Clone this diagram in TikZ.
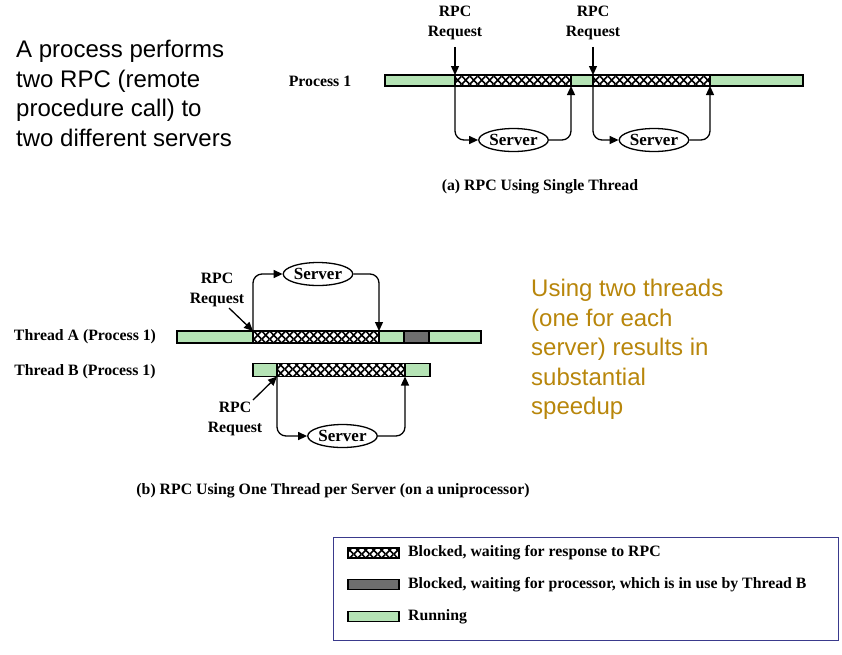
\documentclass[tikz,border=0pt]{standalone}
\usepackage{fontspec}
\setmainfont{Liberation Serif}
\newfontfamily\arialfont{Liberation Sans}
\usetikzlibrary{arrows.meta, patterns.meta, positioning, shapes.geometric}
\definecolor{RunGreen}{HTML}{B5E3B5}
\definecolor{WaitGray}{HTML}{6E6E6E}
\definecolor{NoteGold}{HTML}{B8860B}
\definecolor{LegendBlue}{HTML}{3A3A8C}

\tikzdeclarepattern{
  name=xhatch,
  type=uncolored,
  bounding box={(0pt,0pt) and (7.7pt,7.7pt)},
  tile size={(7.7pt,7.7pt)},
  code={\draw[line width=1.6pt] (0pt,0pt) -- (7.7pt,7.7pt) (0pt,7.7pt) -- (7.7pt,0pt);}
}

\tikzset{
  lbl/.style={font=\fontsize{15.8}{19.5}\selectfont\bfseries, inner sep=0pt, align=center},
  note/.style={font=\arialfont\fontsize{24}{29.5}\selectfont, inner sep=0pt, align=left, anchor=north west},
  seg/.style={draw, line width=1.3pt, inner sep=0pt, outer sep=0pt, minimum height=11pt, anchor=west},
  run/.style={seg, fill=RunGreen},
  wait/.style={seg, pattern=xhatch},
  cpu/.style={seg, fill=WaitGray},
  server/.style={draw, ellipse, line width=1.3pt, inner sep=0.5pt, minimum width=55pt, minimum height=23pt,
                 font=\fontsize{17}{19}\selectfont\bfseries},
  flow/.style={-{Triangle[length=9pt,width=8pt]}, line width=1.3pt, rounded corners=9pt},
}

\begin{document}
\begin{tikzpicture}[x=1pt, y=-1pt]
  \useasboundingbox (0,0) rectangle (842,654);

  % side notes
  \node[note] (intro) at (16,40) {A process performs\\two RPC (remote\\procedure call) to\\two different servers};
  \node[note, text=NoteGold] (gain) at (531,279) {Using two threads\\(one for each\\server) results in\\substantial\\speedup};

  % (a) single thread
  \node[lbl] (proc) at (320,81) {Process 1};
  \node[run, minimum width=70pt] (pa1) at (385,80.5) {};
  \node[wait, minimum width=116pt, right=0pt of pa1] (pa2) {};
  \node[run, minimum width=22pt, right=0pt of pa2] (pa3) {};
  \node[wait, minimum width=117pt, right=0pt of pa3] (pa4) {};
  \node[run, minimum width=93pt, right=0pt of pa4] (pa5) {};

  \node[lbl] (rq1) at (455,23) {RPC\\Request};
  \node[lbl] (rq2) at (593,23) {RPC\\Request};
  \draw[flow] ([yshift=-7pt]rq1.south) -- (pa2.north west);
  \draw[flow] ([yshift=-7pt]rq2.south) -- (pa4.north west);

  \node[server] (sv1) at (513.5,140) {Server};
  \node[server] (sv2) at (654,140) {Server};
  \draw[flow] (pa2.south west) |- (sv1.west);
  \draw[flow] (sv1.east) -| (pa2.south east);
  \draw[flow] (pa4.south west) |- (sv2.west);
  \draw[flow] (sv2.east) -| (pa4.south east);

  \node[lbl] (capa) at (540,187) {(a) RPC Using Single Thread};

  % (b) one thread per server
  \node[lbl] (tha) at (85,337) {Thread A (Process 1)};
  \node[lbl] (thb) at (85,372) {Thread B (Process 1)};

  \node[run, minimum width=76pt, minimum height=12pt] (ta1) at (177,337) {};
  \node[wait, minimum width=126pt, minimum height=12pt, right=0pt of ta1] (ta2) {};
  \node[run, minimum width=25pt, minimum height=12pt, right=0pt of ta2] (ta3) {};
  \node[cpu, minimum width=25pt, minimum height=12pt, right=0pt of ta3] (ta4) {};
  \node[run, minimum width=52pt, minimum height=12pt, right=0pt of ta4] (ta5) {};

  \node[run, minimum width=24pt, minimum height=13pt] (tb1) at (253,370) {};
  \node[wait, minimum width=128pt, minimum height=13pt, right=0pt of tb1] (tb2) {};
  \node[run, minimum width=25pt, minimum height=13pt, right=0pt of tb2] (tb3) {};

  \node[server] (sva) at (318,274) {Server};
  \node[server] (svb) at (342.5,436) {Server};
  \draw[flow] (ta2.north west) |- (sva.west);
  \draw[flow] (sva.east) -| (ta2.north east);
  \draw[flow] (tb2.south west) |- (svb.west);
  \draw[flow] (svb.east) -| (tb2.south east);

  \node[lbl] (rqa) at (217,290) {RPC\\Request};
  \node[lbl] (rqb) at (235,419) {RPC\\Request};
  \coordinate (rqa-tail) at (229,308);
  \coordinate (rqb-tail) at (253,400);
  \draw[flow] (rqa-tail) -- (ta2.north west);
  \draw[flow] (rqb-tail) -- (tb2.south west);

  \node[lbl] (capb) at (333,491) {(b) RPC Using One Thread per Server (on a uniprocessor)};

  % legend
  \node[draw=LegendBlue, line width=1.1pt, inner sep=0pt, anchor=north west,
        minimum width=505pt, minimum height=103pt] (legend) at (333,537) {};
  \node[wait, minimum width=51pt, minimum height=10pt] (kwait) at (348,553) {};
  \node[cpu, minimum width=51pt, minimum height=10pt] (kcpu) at (348,584.5) {};
  \node[run, minimum width=51pt, minimum height=10pt] (krun) at (348,616.5) {};
  \node[lbl, right=9pt of kwait] (twait) {Blocked, waiting for response to RPC};
  \node[lbl, right=9pt of kcpu] (tcpu) {Blocked, waiting for processor, which is in use by Thread B};
  \node[lbl, right=9pt of krun] (trun) {Running};
\end{tikzpicture}
\end{document}
